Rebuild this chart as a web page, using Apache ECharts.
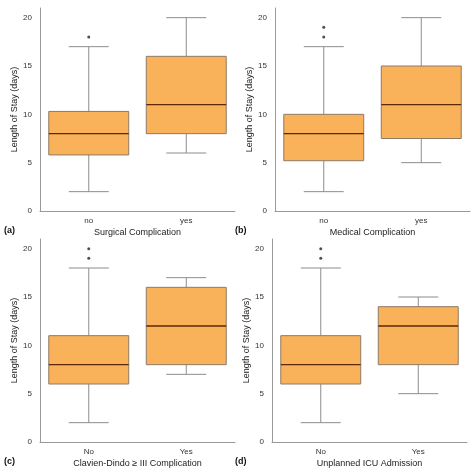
<!DOCTYPE html><html><head><meta charset="utf-8"><script src="https://cdn.jsdelivr.net/npm/echarts@6/dist/echarts.min.js"></script>
<style>html,body{margin:0;background:#fff}#c{width:474px;height:475px}</style></head><body><div id="c"></div><script>
const panels=[
 {cats:['no','yes'],title:'Surgical Complication',tag:'(a)',stats:[[2,5.8,8,10.3,17],[6,8,11,16,20]],out:[[0,18]]},
 {cats:['no','yes'],title:'Medical Complication',tag:'(b)',stats:[[2,5.2,8,10,17],[5,7.5,11,15,20]],out:[[0,18],[0,19]]},
 {cats:['No','Yes'],title:'Clavien-Dindo ≥ III Complication',tag:'(c)',stats:[[2,6,8,11,18],[7,8,12,16,17]],out:[[0,19],[0,20]]},
 {cats:['No','Yes'],title:'Unplanned ICU Admission',tag:'(d)',stats:[[2,6,8,11,18],[5,8,12,14,15]],out:[[0,19],[0,20]]}
];
const yTicks=[0,5,10,15,20];
const pos=[[40,8],[275,8],[40,239],[272,239]];
const grid=[],xAxis=[],yAxis=[],series=[],graphic=[];
panels.forEach((p,i)=>{
 const [l,t]=pos[i];
 grid.push({left:l,top:t,width:195,height:203});
 xAxis.push({gridIndex:i,type:'category',data:p.cats,axisLine:{lineStyle:{color:'#999'}},axisTick:{show:false},axisLabel:{fontSize:8,color:'#333',margin:6},
  name:p.title,nameLocation:'middle',nameGap:17,nameTextStyle:{fontSize:9,color:'#222'}});
 yAxis.push({gridIndex:i,type:'value',min:0,max:21,interval:5,axisLine:{show:true,lineStyle:{color:'#999'}},axisTick:{show:false},splitLine:{show:false},
  axisLabel:{fontSize:8,color:'#333',margin:8,formatter:v=>yTicks.includes(v)?v:''},name:'Length of Stay (days)',nameLocation:'middle',nameGap:20,nameTextStyle:{fontSize:9,color:'#222'}});
 series.push({type:'custom',xAxisIndex:i,yAxisIndex:i,data:p.stats.map((s,k)=>[k,...s]),
  renderItem:(params,api)=>{
   const x=api.value(0),bw=api.size([1,0])[0]*0.82;
   const c=v=>api.coord([x,v]);
   const [cx,yMin]=c(api.value(1)),yQ1=c(api.value(2))[1],yMed=c(api.value(3))[1],yQ3=c(api.value(4))[1],yMax=c(api.value(5))[1];
   const g='#8c8c8c';
   return {type:'group',children:[
    {type:'line',shape:{x1:cx,y1:yQ3,x2:cx,y2:yMax},style:{stroke:g,lineWidth:1}},
    {type:'line',shape:{x1:cx,y1:yQ1,x2:cx,y2:yMin},style:{stroke:g,lineWidth:1}},
    {type:'line',shape:{x1:cx-bw/4,y1:yMax,x2:cx+bw/4,y2:yMax},style:{stroke:g,lineWidth:1}},
    {type:'line',shape:{x1:cx-bw/4,y1:yMin,x2:cx+bw/4,y2:yMin},style:{stroke:g,lineWidth:1}},
    {type:'rect',shape:{x:cx-bw/2,y:yQ3,width:bw,height:yQ1-yQ3},style:{fill:'#f9b15a',stroke:'#8f7a66',lineWidth:1}},
    {type:'line',shape:{x1:cx-bw/2,y1:yMed,x2:cx+bw/2,y2:yMed},style:{stroke:'#5a2a08',lineWidth:1.3}}
   ]};
  }});
 series.push({type:'scatter',xAxisIndex:i,yAxisIndex:i,data:p.out,symbolSize:3,itemStyle:{color:'#222'}});
 graphic.push({type:'text',left:6,top:t+218,style:{text:p.tag,font:'bold 9px sans-serif',fill:'#111'},left:(i%2?235:4)});
});
const ch=echarts.init(document.getElementById('c'));
ch.setOption({animation:false,grid,xAxis,yAxis,series,graphic});
</script></body></html>
